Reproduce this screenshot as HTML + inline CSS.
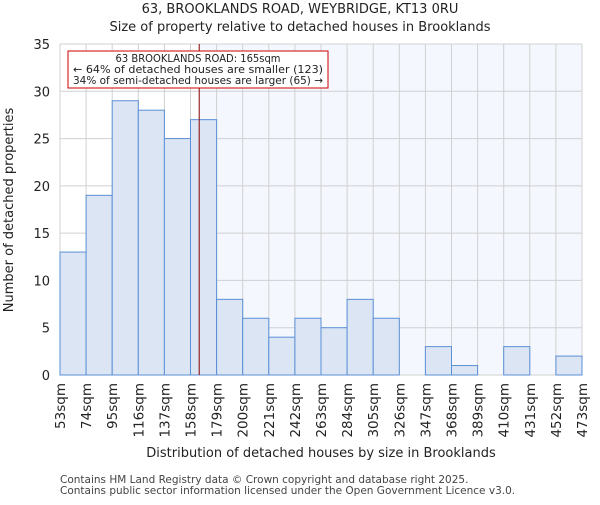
<!DOCTYPE html>
<html><head><meta charset="utf-8"><style>body{margin:0;background:#fff}svg{font-family:"DejaVu Sans","Liberation Sans",sans-serif}</style></head>
<body>
<svg id="c" width="600" height="500"></svg>
<script>
const binStarts=[53,74,95,116,137,158,179,200,221,242,263,284,305,326,347,368,389,410,431,452];
const counts=[13,19,29,28,25,27,8,6,4,6,5,8,6,0,3,1,0,3,0,2];
const xTickLabels=["53sqm","74sqm","95sqm","116sqm","137sqm","158sqm","179sqm","200sqm","221sqm","242sqm","263sqm","284sqm","305sqm","326sqm","347sqm","368sqm","389sqm","410sqm","431sqm","452sqm","473sqm"];
const yTicks=[0,5,10,15,20,25,30,35];
const marker=165;
const L=60,R=582,T=44,B=375,xMin=53,xMax=473,yMax=35;
const sx=v=>L+(v-xMin)/(xMax-xMin)*(R-L);
const sy=v=>B-v/yMax*(B-T);
const svg=document.getElementById('c');const NS='http://www.w3.org/2000/svg';
function add(tag,a,txt){const e=document.createElementNS(NS,tag);for(const k in a)e.setAttribute(k,a[k]);if(txt!==undefined)e.textContent=txt;svg.appendChild(e);return e;}
let e;
e=add('rect',{x:sx(marker),y:T,width:R-sx(marker),height:B-T,fill:'#f4f7fe'});

xTickLabels.forEach((t,i)=>{const x=sx(xMin+i*21);
e=add('line',{x1:x,x2:x,y1:T,y2:B,stroke:'#d0d0d0','stroke-width':1});
e=add('text',{x:0,y:0,transform:`translate(${x+5},${B+8}) rotate(-90)`,'text-anchor':'end','font-size':13.5,fill:'#222'},t);});
yTicks.forEach(v=>{const y=sy(v);
e=add('line',{x1:L,x2:R,y1:y,y2:y,stroke:'#d0d0d0','stroke-width':1});
e=add('text',{x:L-10,y:y+5,'text-anchor':'end','font-size':13,fill:'#222'},v);});
counts.forEach((c,i)=>{if(!c)return;const x0=sx(binStarts[i]),x1=sx(binStarts[i]+21);
e=add('rect',{x:x0,y:sy(c),width:x1-x0,height:B-sy(c),fill:'#dbe5f4',stroke:'#5b8fd6','stroke-width':1});});
e=add('line',{x1:sx(marker),x2:sx(marker),y1:T,y2:B,stroke:'#880000','stroke-width':1});
e=add('rect',{x:68,y:51,width:260,height:37,fill:'#fff',stroke:'#cc0000','stroke-width':1});
[["63 BROOKLANDS ROAD: 165sqm",62],["← 64% of detached houses are smaller (123)",73],["34% of semi-detached houses are larger (65) →",84]].forEach(([t,y])=>{e=add('text',{x:198,y:y,'text-anchor':'middle','font-size':10.5,fill:'#222',textLength:t.length>30?250:165,lengthAdjust:'spacingAndGlyphs'},t);});
e=add('text',{x:300,y:13,'text-anchor':'middle','font-size':13,fill:'#222'},"63, BROOKLANDS ROAD, WEYBRIDGE, KT13 0RU");
e=add('text',{x:300,y:31,'text-anchor':'middle','font-size':13,fill:'#222'},"Size of property relative to detached houses in Brooklands");
e=add('text',{x:0,y:0,transform:'translate(13,210) rotate(-90)','text-anchor':'middle','font-size':13,fill:'#222'},"Number of detached properties");
e=add('text',{x:321,y:457,'text-anchor':'middle','font-size':13,fill:'#222'},"Distribution of detached houses by size in Brooklands");
e=add('text',{x:60,y:483,'font-size':10.5,fill:'#444'},"Contains HM Land Registry data © Crown copyright and database right 2025.");
e=add('text',{x:60,y:494,'font-size':10.5,fill:'#444'},"Contains public sector information licensed under the Open Government Licence v3.0.");
</script>
</body></html>
